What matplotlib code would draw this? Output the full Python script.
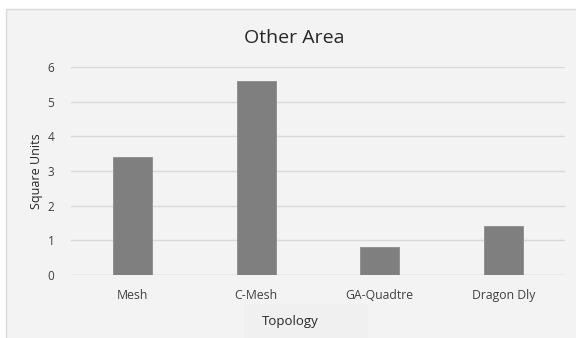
import matplotlib
matplotlib.use("Agg")
import matplotlib.pyplot as plt
from matplotlib.patches import Rectangle

categories = ["Mesh", "C-Mesh", "GA-Quadtre", "Dragon Dly"]
values = [3.4, 5.6, 0.8, 1.4]
yticks = [0, 1, 2, 3, 4, 5, 6]

W, H = 576, 338
fig = plt.figure(figsize=(W / 100, H / 100), dpi=100)
fig.patch.set_facecolor("white")

font = "Open Sans"
bg = "#f3f3f3"

# chart frame
fig.patches.append(Rectangle((6 / W, -0.01), 1.0, (H - 9) / H + 0.01,
                             transform=fig.transFigure, facecolor=bg,
                             edgecolor="#d9d9d9", linewidth=1.0, zorder=-2))
# axis title box
fig.patches.append(Rectangle((244 / W, 0), 124 / W, (H - 304) / H,
                             transform=fig.transFigure, facecolor="#f0f0f0",
                             edgecolor="none", zorder=-1))

ax = fig.add_axes([71 / W, (H - 275) / H, (565 - 71) / W, (275 - 67) / H])
ax.set_facecolor("none")
x = range(len(categories))
ax.bar(x, values, width=0.315, color="#7f7f7f", edgecolor="#8c8c8c",
       linewidth=0.6, zorder=3)
ax.set_xlim(-0.5, len(categories) - 0.5)
ax.set_ylim(0, 6)
ax.set_yticks(yticks)
ax.set_yticklabels([str(t) for t in yticks], fontsize=8.5, family=font, color="#404040")
ax.set_xticks(list(x))
ax.set_xticklabels(categories, fontsize=8.8, family=font, color="#404040")
ax.tick_params(axis="both", length=0)
ax.tick_params(axis="y", pad=12)
ax.tick_params(axis="x", pad=10)
ax.yaxis.grid(True, color="#d9d9d9", linewidth=1.0, zorder=0)
for s in ax.spines.values():
    s.set_visible(False)
ax.axhline(0, color="#d9d9d9", linewidth=1.0, zorder=1)

ax.set_ylabel("Square Units", fontsize=9, family=font, color="#262626", labelpad=3)

fig.text(294 / W, 1 - 38 / H, "Other Area", ha="center", va="center",
         fontsize=14, family=font, color="#262626")
fig.text(290 / W, 1 - 322 / H, "Topology", ha="center", va="center",
         fontsize=9.5, family=font, color="#262626")

fig.savefig("out.png", dpi=100, facecolor=fig.get_facecolor())
